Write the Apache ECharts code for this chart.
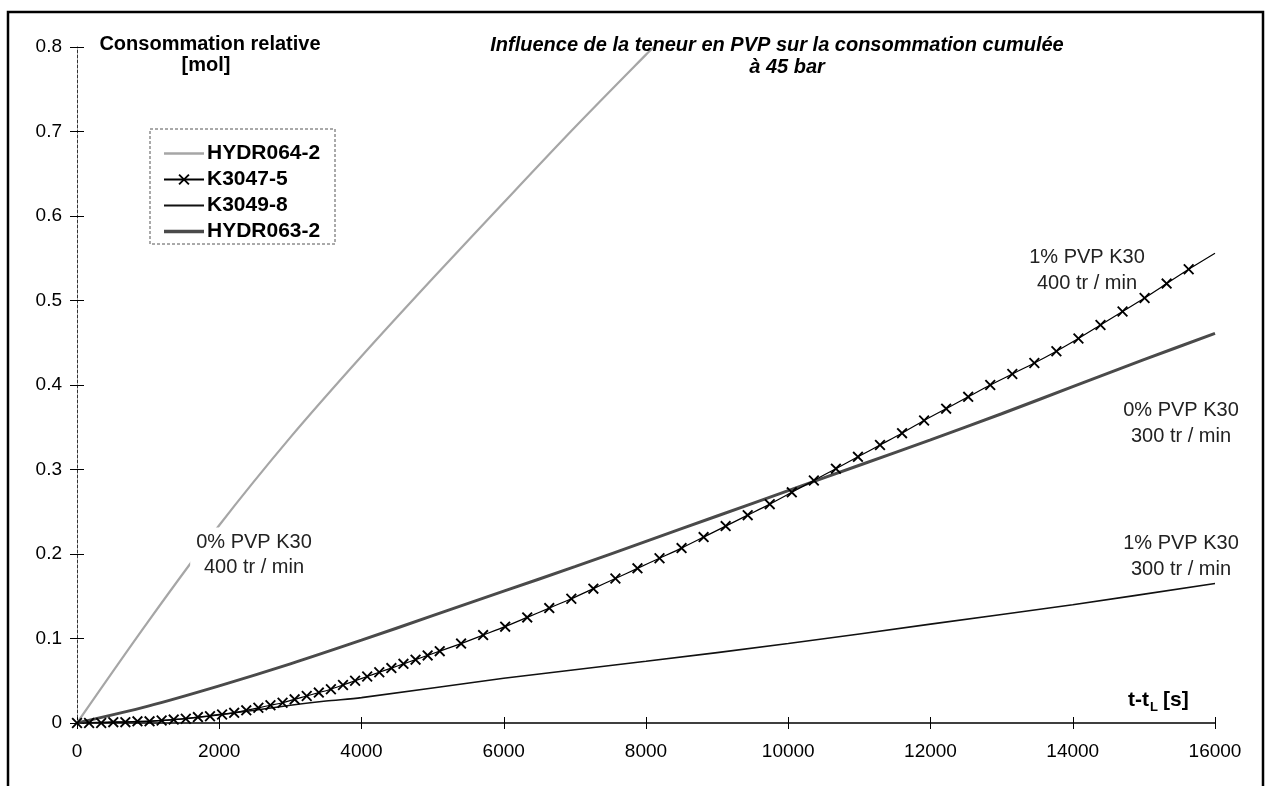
<!DOCTYPE html>
<html><head><meta charset="utf-8">
<script src="https://cdn.jsdelivr.net/npm/echarts@6/dist/echarts.min.js"></script>
<style>html,body{margin:0;padding:0;background:#fff}#c{width:1269px;height:786px}</style>
</head><body><div id="c"></div>
<script>
// ---- data ----
const xTickLabels = [0, 2000, 4000, 6000, 8000, 10000, 12000, 14000, 16000];
const yTickLabels = [0, 0.1, 0.2, 0.3, 0.4, 0.5, 0.6, 0.7, 0.8];

const seriesNames = ['HYDR064-2', 'K3047-5', 'K3049-8', 'HYDR063-2'];

// HYDR064-2 : 0% PVP K30, 400 tr/min
const hydr064T = [0, 1000, 2000, 3000, 4000, 5000, 6000, 7000, 8000, 8110];
const hydr064V = [0, 0.120, 0.234, 0.338, 0.434, 0.526, 0.616, 0.705, 0.791, 0.800];

// K3047-5 : 1% PVP K30, 400 tr/min (marked points)
const k3047T = [0, 170, 340, 510, 680, 850, 1020, 1190, 1360, 1530, 1700, 1870, 2040, 2210, 2380, 2550,
  2720, 2890, 3060, 3230, 3400, 3570, 3740, 3910, 4080, 4250, 4420, 4590, 4760, 4930, 5100,
  5400, 5710, 6020, 6330, 6640, 6950, 7260, 7570, 7880, 8190, 8500, 8810, 9120, 9430, 9740,
  10050, 10360, 10670, 10980, 11290, 11600, 11910, 12220, 12530, 12840, 13150, 13460, 13770,
  14080, 14390, 14700, 15010, 15320, 15630];
const k3047V = [0, 0.000, 0.000, 0.001, 0.001, 0.002, 0.002, 0.003, 0.004, 0.005, 0.007, 0.008, 0.010, 0.012, 0.015, 0.018,
  0.021, 0.024, 0.028, 0.032, 0.036, 0.040, 0.045, 0.050, 0.055, 0.060, 0.065, 0.070, 0.075, 0.080, 0.085,
  0.094, 0.104, 0.114, 0.125, 0.136, 0.147, 0.159, 0.171, 0.183, 0.195, 0.207, 0.220, 0.233, 0.246, 0.259,
  0.273, 0.287, 0.301, 0.315, 0.329, 0.343, 0.358, 0.372, 0.386, 0.400, 0.413, 0.426, 0.440,
  0.455, 0.471, 0.487, 0.503, 0.520, 0.537];
// end of the K3047-5 curve (no marker)
const k3047EndT = 16000;
const k3047EndV = 0.556;

// K3049-8 : 1% PVP K30, 300 tr/min
const k3049T = [0, 500, 1000, 1500, 2000, 2500, 3000, 3500, 4000, 6000, 8000, 10000, 12000, 14000, 16000];
const k3049V = [0, 0.001, 0.002, 0.005, 0.010, 0.015, 0.021, 0.026, 0.030, 0.053, 0.073, 0.094, 0.117, 0.140, 0.165];

// HYDR063-2 : 0% PVP K30, 300 tr/min
const hydr063T = [0, 1000, 2000, 3000, 4000, 5000, 6000, 7000, 8000, 9000, 10000, 11000, 12000, 13000, 14000, 15000, 16000];
const hydr063V = [0, 0.020, 0.044, 0.070, 0.098, 0.127, 0.156, 0.185, 0.215, 0.245, 0.275, 0.305, 0.335, 0.366, 0.398, 0.430, 0.461];

// annotation texts
const titleLines = ['Influence de la teneur en PVP sur la consommation cumulée', 'à 45 bar'];
const yNameLines = ['Consommation relative', '[mol]'];
const annotations = [
  ['0% PVP K30', '400 tr / min'],
  ['1% PVP K30', '400 tr / min'],
  ['0% PVP K30', '300 tr / min'],
  ['1% PVP K30', '300 tr / min']
];

// ---- chart ----
const FONT = "'Liberation Sans', Arial, sans-serif";
const zip = (t, v) => t.map((x, i) => [x, v[i]]);
const xMark = 'path://M0,1.2 L1.2,0 L5,3.8 L8.8,0 L10,1.2 L6.2,5 L10,8.8 L8.8,10 L5,6.2 L1.2,10 L0,8.8 L3.8,5 Z';
const lineIcon = w => 'path://M0,0 H40 V' + w + ' H0 Z';

const k3047Data = zip(k3047T, k3047V);
k3047Data.push({ value: [k3047EndT, k3047EndV], symbol: 'none' });

const chart = echarts.init(document.getElementById('c'), null, { renderer: 'canvas' });

const annPos = [[254, 542, 567], [1087, 257, 283], [1181, 410, 436], [1181, 543, 569]];
const graphics = [
  { type: 'rect', z: 0, silent: true, shape: { x: 8, y: 12, width: 1255, height: 800 },
    style: { fill: 'none', stroke: '#000', lineWidth: 2.5 } },
  { type: 'rect', z: 0, silent: true, shape: { x: 150, y: 129, width: 185, height: 115 },
    style: { fill: '#fff', stroke: '#555', lineWidth: 1, lineDash: [3, 2] } },
  { type: 'text', z: 100, style: { text: titleLines[0], x: 777, y: 45, align: 'center', verticalAlign: 'middle',
      font: 'italic bold 20px ' + FONT, fill: '#000' } },
  { type: 'text', z: 100, style: { text: titleLines[1], x: 787, y: 67, align: 'center', verticalAlign: 'middle',
      font: 'italic bold 20px ' + FONT, fill: '#000' } },
  { type: 'text', z: 100, style: { text: yNameLines[0], x: 210, y: 44, align: 'center', verticalAlign: 'middle',
      font: 'bold 20px ' + FONT, fill: '#000' } },
  { type: 'text', z: 100, style: { text: yNameLines[1], x: 206, y: 65, align: 'center', verticalAlign: 'middle',
      font: 'bold 20px ' + FONT, fill: '#000' } },
  { type: 'text', z: 100, style: { text: 't-t', x: 1149, y: 700, align: 'right', verticalAlign: 'middle',
      font: 'bold 21px ' + FONT, fill: '#000' } },
  { type: 'text', z: 100, style: { text: 'L', x: 1150, y: 707, align: 'left', verticalAlign: 'middle',
      font: 'bold 13px ' + FONT, fill: '#000' } },
  { type: 'text', z: 100, style: { text: '[s]', x: 1163, y: 700, align: 'left', verticalAlign: 'middle',
      font: 'bold 21px ' + FONT, fill: '#000' } }
];
annotations.forEach((a, i) => {
  const p = annPos[i];
  graphics.push({ type: 'text', z: 100, style: { text: a[0] + '\n' + a[1], x: p[0], y: (p[1] + p[2]) / 2,
    align: 'center', verticalAlign: 'middle', font: '20px ' + FONT, lineHeight: p[2] - p[1], fill: '#222',
    backgroundColor: i === 0 ? '#fff' : 'transparent', padding: i === 0 ? [2, 6, 2, 6] : 0 } });
});

const xBase = { type: 'value', min: xTickLabels[0], max: xTickLabels[xTickLabels.length - 1],
  interval: xTickLabels[1] - xTickLabels[0], splitLine: { show: false } };
const yBase = { type: 'value', min: yTickLabels[0], max: yTickLabels[yTickLabels.length - 1],
  interval: 0.1, splitLine: { show: false } };

const option = {
  animation: false,
  backgroundColor: '#fff',
  grid: { left: 77, right: 54, top: 47, bottom: 63, containLabel: false },
  legend: {
    orient: 'vertical', left: 158, top: 138, itemWidth: 40, itemHeight: 14, itemGap: 5,
    textStyle: { fontFamily: FONT, fontWeight: 'bold', fontSize: 21, color: '#000', padding: [0, 0, 0, -2] },
    data: [
      { name: seriesNames[0], icon: lineIcon(2.5) },
      { name: seriesNames[1] },
      { name: seriesNames[2], icon: lineIcon(2) },
      { name: seriesNames[3], icon: lineIcon(3.5) }
    ]
  },
  xAxis: [
    Object.assign({}, xBase, {
      axisLine: { show: true, lineStyle: { color: '#000', width: 1.5 } },
      axisTick: { show: true, inside: false, length: 6, lineStyle: { color: '#000' } },
      axisLabel: { show: true, margin: 19, fontFamily: FONT, fontSize: 19, color: '#000',
        formatter: v => String(v) }
    }),
    Object.assign({}, xBase, {
      position: 'bottom',
      axisLine: { show: false }, axisLabel: { show: false },
      axisTick: { show: true, inside: true, length: 6, lineStyle: { color: '#000' } }
    })
  ],
  yAxis: [
    Object.assign({}, yBase, {
      axisLine: { show: true, lineStyle: { color: '#333', width: 1, type: [3, 2] } },
      axisTick: { show: true, inside: false, length: 7, lineStyle: { color: '#000' } },
      axisLabel: { show: true, margin: 15, fontFamily: FONT, fontSize: 19, color: '#000',
        formatter: v => (v === 0 ? '0' : v.toFixed(1)) }
    }),
    Object.assign({}, yBase, {
      position: 'left',
      axisLine: { show: false }, axisLabel: { show: false },
      axisTick: { show: true, inside: true, length: 7, lineStyle: { color: '#000' } }
    })
  ],
  graphic: graphics,
  series: [
    { name: seriesNames[0], type: 'line', smooth: 0.3, showSymbol: false, symbol: 'none',
      data: zip(hydr064T, hydr064V), z: 3,
      lineStyle: { color: '#a6a6a6', width: 2.2 }, itemStyle: { color: '#a6a6a6' } },
    { name: seriesNames[1], type: 'line', smooth: 0.2, symbol: xMark, symbolSize: 11, showSymbol: true,
      data: k3047Data, z: 5,
      lineStyle: { color: '#000', width: 1.2 }, itemStyle: { color: '#000' } },
    { name: seriesNames[2], type: 'line', smooth: 0.3, showSymbol: false, symbol: 'none',
      data: zip(k3049T, k3049V), z: 4,
      lineStyle: { color: '#111', width: 1.6 }, itemStyle: { color: '#111' } },
    { name: seriesNames[3], type: 'line', smooth: 0.3, showSymbol: false, symbol: 'none',
      data: zip(hydr063T, hydr063V), z: 4,
      lineStyle: { color: '#4a4a4a', width: 3 }, itemStyle: { color: '#4a4a4a' } }
  ]
};
chart.setOption(option);
</script>
</body></html>
